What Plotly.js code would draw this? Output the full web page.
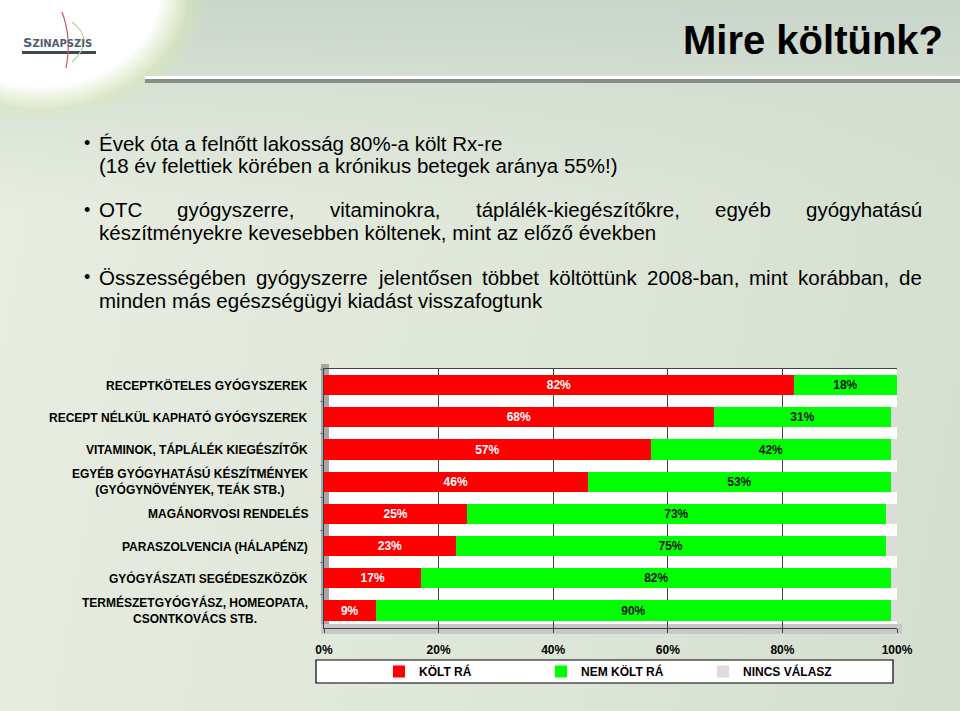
<!DOCTYPE html>
<html>
<head>
<meta charset="utf-8">
<script src="https://cdn.plot.ly/plotly-3.0.1.min.js"></script>
<style>
html,body{margin:0;padding:0;}
#wrap{position:relative;width:960px;height:711px;overflow:hidden;
 background:
  radial-gradient(ellipse 150px 120px at 40px -10px, #ffffff 0%, #ffffff 80%, rgba(255,255,255,0) 100%),
  radial-gradient(ellipse 172px 132px at 40px -10px, rgba(215,235,175,0.8) 0%, rgba(215,235,175,0.5) 85%, rgba(215,235,175,0) 100%),
  linear-gradient(180deg, rgba(200,212,202,0.95) 0px, rgba(210,221,208,0.7) 90px, rgba(228,236,222,0) 210px),
  linear-gradient(100deg, #e8eee2 0%, #e0e8da 45%, #d4dfd0 100%);}
#chart{position:absolute;left:0;top:0;width:960px;height:711px;}
</style>
</head>
<body>
<div id="wrap"><div id="chart"></div></div>
<script>
// ---- data ----
const categories = [
  "RECEPTKÖTELES GYÓGYSZEREK",
  "RECEPT NÉLKÜL KAPHATÓ GYÓGYSZEREK",
  "VITAMINOK, TÁPLÁLÉK KIEGÉSZÍTŐK",
  "EGYÉB GYÓGYHATÁSÚ KÉSZÍTMÉNYEK<br>(GYÓGYNÖVÉNYEK, TEÁK STB.)",
  "MAGÁNORVOSI RENDELÉS",
  "PARASZOLVENCIA (HÁLAPÉNZ)",
  "GYÓGYÁSZATI SEGÉDESZKÖZÖK",
  "TERMÉSZETGYÓGYÁSZ, HOMEOPATA,<br>CSONTKOVÁCS STB."
];
const koltRa    = [82, 68, 57, 46, 25, 23, 17, 9];
const nemKoltRa = [18, 31, 42, 53, 73, 75, 82, 90];
const nincsValasz = [0, 1, 1, 1, 2, 2, 1, 1];
const seriesNames = ["KÖLT RÁ", "NEM KÖLT RÁ", "NINCS VÁLASZ"];
const xTickVals = [0, 20, 40, 60, 80, 100];
const xTickText = ["0%", "20%", "40%", "60%", "80%", "100%"];

const titleText = "Mire költünk?";
// each bullet: list of [lineText, justified]
const bulletLines = [
  [["Évek óta a felnőtt lakosság 80%-a költ Rx-re", false], ["(18 év felettiek körében a krónikus betegek aránya 55%!)", false]],
  [["OTC gyógyszerre, vitaminokra, táplálék-kiegészítőkre, egyéb gyógyhatású", true], ["készítményekre kevesebben költenek, mint az előző években", false]],
  [["Összességében gyógyszerre jelentősen többet költöttünk 2008-ban, mint korábban, de", true], ["minden más egészségügyi kiadást visszafogtunk", false]]
];

// ---- geometry helpers (plot area in pixels) ----
const W = 960, H = 711;
const M = {l: 324, r: 63, t: 369, b: 83};
const PW = W - M.l - M.r, PH = H - M.t - M.b;
const px = v => (v - M.l) / PW;
const py = v => (H - M.b - v) / PH;

const FONT = "Liberation Sans, Arial, sans-serif";
const bold12 = {family: FONT, size: 12, color: "#000", weight: "bold"};

const traces = [
  {type: "bar", orientation: "h", name: seriesNames[0], y: categories, x: koltRa,
   marker: {color: "#ff0000"}, texttemplate: "%{x}%", textposition: "inside",
   insidetextanchor: "middle", insidetextfont: {family: FONT, size: 12, color: "#ffffff", weight: "bold"},
   constraintext: "none", textangle: 0, hoverinfo: "x+name"},
  {type: "bar", orientation: "h", name: seriesNames[1], y: categories, x: nemKoltRa,
   marker: {color: "#00ff00"}, texttemplate: "%{x}%", textposition: "inside",
   insidetextanchor: "middle", insidetextfont: {family: FONT, size: 12, color: "#111111", weight: "bold"},
   constraintext: "none", textangle: 0, hoverinfo: "x+name"},
  {type: "bar", orientation: "h", name: seriesNames[2], y: categories, x: nincsValasz,
   marker: {color: "#dcdcdc"}, textposition: "none", hoverinfo: "x+name"}
];

const annotations = [];
// title
annotations.push({xref: "paper", yref: "paper", x: px(945), y: py(40), xanchor: "right", yanchor: "middle",
  text: titleText, showarrow: false, font: {family: FONT, size: 40, color: "#000", weight: "bold"}});
// logo text
annotations.push({xref: "paper", yref: "paper", x: px(21), y: py(42), xanchor: "left", yanchor: "middle",
  text: "S<span style='font-size:10px'>ZINAPSZIS</span>", showarrow: false,
  font: {family: "DejaVu Sans, sans-serif", size: 13, color: "#4d6070", weight: "bold"}});

// bullets
const bulletY = [[143, 165], [210, 233], [277, 300]];
const TEXT_SIZE = 20.5;
const textFont = {family: FONT, size: TEXT_SIZE, color: "#000"};
const TEXT_L = 97, TEXT_R = 920;
const cv = document.createElement("canvas").getContext("2d");
cv.font = TEXT_SIZE + "px 'Liberation Sans', Arial, sans-serif";
bulletLines.forEach((lines, i) => {
  annotations.push({xref: "paper", yref: "paper", x: px(82), y: py(bulletY[i][0]), xanchor: "left", yanchor: "middle",
    text: "•", showarrow: false, font: {family: FONT, size: 18, color: "#000"}});
  lines.forEach(([ln, just], j) => {
    if (just) {
      const words = ln.split(" ");
      const widths = words.map(w => cv.measureText(w).width);
      const total = widths.reduce((a, b) => a + b, 0);
      const gap = (TEXT_R - TEXT_L - total) / (words.length - 1);
      let xpos = TEXT_L;
      words.forEach((w, k) => {
        annotations.push({xref: "paper", yref: "paper", x: px(xpos), y: py(bulletY[i][j]),
          xanchor: "left", yanchor: "middle", text: w, showarrow: false, font: textFont});
        xpos += widths[k] + gap;
      });
    } else {
      annotations.push({xref: "paper", yref: "paper", x: px(TEXT_L), y: py(bulletY[i][j]), xanchor: "left", yanchor: "middle",
        text: ln, showarrow: false, font: textFont});
    }
  });
});

// category labels (centered multi-line, right edge at 310px)
categories.forEach(c => {
  annotations.push({xref: "paper", yref: "y", x: px(310), y: c, xanchor: "right", yanchor: "middle",
    align: "center", text: c, showarrow: false, font: bold12});
});

const shapes = [
  // logo underline
  {type: "rect", xref: "paper", yref: "paper", x0: px(22), x1: px(96), y0: py(51), y1: py(54),
   fillcolor: "#3e4a52", line: {width: 0}},
  // logo vertical stroke
  {type: "path", xref: "paper", yref: "paper",
   path: `M ${px(62)} ${py(12)} Q ${px(72)} ${py(38)} ${px(66)} ${py(68)}`,
   line: {color: "#d0506a", width: 1.2}},
  // logo arc
  {type: "path", xref: "paper", yref: "paper",
   path: `M ${px(72)} ${py(22)} Q ${px(96)} ${py(40)} ${px(72)} ${py(62)}`,
   line: {color: "#b0d490", width: 1.2}},
  // title underline (white + grey)
  {type: "rect", xref: "paper", yref: "paper", x0: px(145), x1: px(960), y0: py(79), y1: py(76),
   fillcolor: "#ffffff", line: {width: 0}},
  {type: "rect", xref: "paper", yref: "paper", x0: px(145), x1: px(960), y0: py(83), y1: py(79),
   fillcolor: "#878d88", line: {width: 0}},
  // left 3D wall
  {type: "rect", xref: "paper", yref: "paper", x0: px(321), x1: px(329), y0: py(634), y1: py(364),
   fillcolor: "#a6a6a6", line: {width: 0}, layer: "below"},
  // floor
  {type: "rect", xref: "paper", yref: "paper", x0: px(321), x1: px(902), y0: py(634), y1: py(624),
   fillcolor: "#c8c8c8", line: {width: 0}, layer: "below"},
  // legend box
  {type: "rect", xref: "paper", yref: "paper", x0: px(316), x1: px(893), y0: py(683), y1: py(660),
   fillcolor: "#ffffff", line: {color: "#000", width: 1.2}}
];

const layout = {
  width: W, height: H,
  margin: M,
  paper_bgcolor: "rgba(0,0,0,0)",
  plot_bgcolor: "#ffffff",
  barmode: "stack",
  bargap: 0.37,
  font: {family: FONT},
  xaxis: {range: [0, 100], tickvals: xTickVals, ticktext: xTickText, showgrid: true,
    gridcolor: "#404040", gridwidth: 1, zeroline: false, showline: true, mirror: true,
    linecolor: "#404040", linewidth: 1, ticks: "outside", ticklen: 4, tickcolor: "#404040",
    tickfont: bold12, ticklabelstandoff: 7, fixedrange: true},
  yaxis: {type: "category", autorange: "reversed", showticklabels: false, showgrid: false,
    showline: true, linecolor: "#404040", ticks: "outside", tickson: "boundaries", ticklen: 3,
    tickcolor: "#808080", fixedrange: true},
  showlegend: true,
  legend: {orientation: "h", traceorder: "normal", x: px(379), xanchor: "left", y: py(671.5), yanchor: "middle",
    bgcolor: "rgba(0,0,0,0)", borderwidth: 0, font: bold12, entrywidth: 117, entrywidthmode: "pixels",
    itemwidth: 30},
  shapes: shapes,
  annotations: annotations
};

Plotly.newPlot("chart", traces, layout, {displayModeBar: false, staticPlot: true});
</script>
</body>
</html>
